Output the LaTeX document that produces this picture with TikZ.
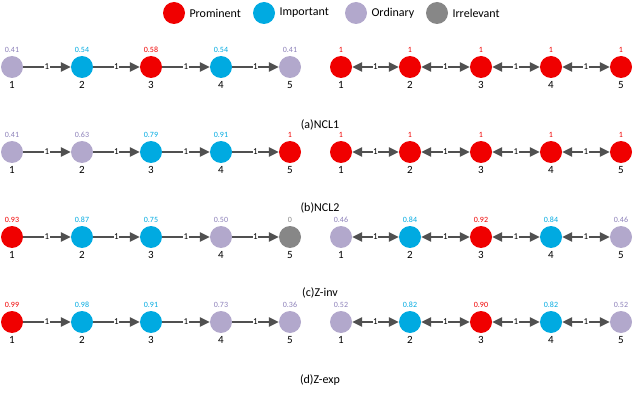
\documentclass[tikz,border=0pt]{standalone}
\usepackage{fontspec}
\setmainfont{Carlito}
\usetikzlibrary{arrows.meta}
\definecolor{pr}{RGB}{240,0,0}
\definecolor{im}{RGB}{0,170,225}
\definecolor{od}{RGB}{178,168,204}
\definecolor{odt}{RGB}{140,128,185}
\definecolor{ir}{RGB}{135,135,135}
\definecolor{ed}{RGB}{80,80,80}
\tikzset{
 nd/.style={circle,fill=#1,minimum size=22pt,inner sep=0pt},
 val/.style={font=\fontsize{8}{8}\selectfont,text=#1},
 num/.style={font=\fontsize{11}{11}\selectfont},
 captxt/.style={font=\fontsize{12}{12}\selectfont},
 dir/.style={draw=ed,line width=2.6pt,-{Triangle[length=10pt,width=9pt]}},
 bi/.style={draw=ed,line width=2.6pt,{Triangle[length=10pt,width=9pt]}-{Triangle[length=10pt,width=9pt]}},
 wl/.style={fill=white,inner sep=0.5pt,font=\fontsize{9}{9}\selectfont,midway}
}
\newcommand{\myrow}[4]{% prefix, y, list i/x/col/textcol/val, style
 \foreach \i/\x/\c/\t/\v in {#3}{
  \node[nd=\c] (#1\i) at (\x,#2) {};
  \node[val=\t] at (\x,#2-17) {\v};
  \node[num] at (\x,#2+18) {\i};
 }
 \foreach \i/\j in {1/2,2/3,3/4,4/5}{
  \draw[#4] (#1\i) -- node[wl]{1} (#1\j);
 }
}
\begin{document}
\begin{tikzpicture}[x=1pt,y=-1pt]
\useasboundingbox (0,0) rectangle (640,401);
% legend
\node[nd=pr] (lp) at (174,13) {};
\node[anchor=west,captxt] (tp) at (186,13) {Prominent};
\node[nd=im] (li) at (264,13) {};
\node[anchor=west,captxt] (ti) at (276,13) {Important};
\node[nd=od] (lo) at (356,13) {};
\node[anchor=west,captxt] (to) at (368,13) {Ordinary};
\node[nd=ir] (lr) at (437,13) {};
\node[anchor=west,captxt] (tr) at (449,13) {Irrelevant};
% row a
\myrow{al}{67}{1/12/od/odt/0.41,2/82/im/im/0.54,3/151/pr/pr/0.58,4/221/im/im/0.54,5/290/od/odt/0.41}{dir}
\myrow{ar}{67}{1/341/pr/pr/1,2/410/pr/pr/1,3/481/pr/pr/1,4/551/pr/pr/1,5/621/pr/pr/1}{bi}
\node[captxt] (ca) at (320,125) {(a)NCL1};
% row b
\myrow{bl}{152}{1/12/od/odt/0.41,2/82/od/odt/0.63,3/151/im/im/0.79,4/221/im/im/0.91,5/290/pr/pr/1}{dir}
\myrow{br}{152}{1/341/pr/pr/1,2/410/pr/pr/1,3/481/pr/pr/1,4/551/pr/pr/1,5/621/pr/pr/1}{bi}
\node[captxt] (cb) at (320,208) {(b)NCL2};
% row c
\myrow{cl}{237}{1/12/pr/pr/0.93,2/82/im/im/0.87,3/151/im/im/0.75,4/221/od/odt/0.50,5/290/ir/ir/0}{dir}
\myrow{cr}{237}{1/341/od/odt/0.46,2/410/im/im/0.84,3/481/pr/pr/0.92,4/551/im/im/0.84,5/621/od/odt/0.46}{bi}
\node[captxt] (cc) at (320,293) {(c)Z-inv};
% row d
\myrow{dl}{322}{1/12/pr/pr/0.99,2/82/im/im/0.98,3/151/im/im/0.91,4/221/od/odt/0.73,5/290/od/odt/0.36}{dir}
\myrow{dr}{322}{1/341/od/odt/0.52,2/410/im/im/0.82,3/481/pr/pr/0.90,4/551/im/im/0.82,5/621/od/odt/0.52}{bi}
\node[captxt] (cd) at (320,380) {(d)Z-exp};
\end{tikzpicture}
\end{document}
